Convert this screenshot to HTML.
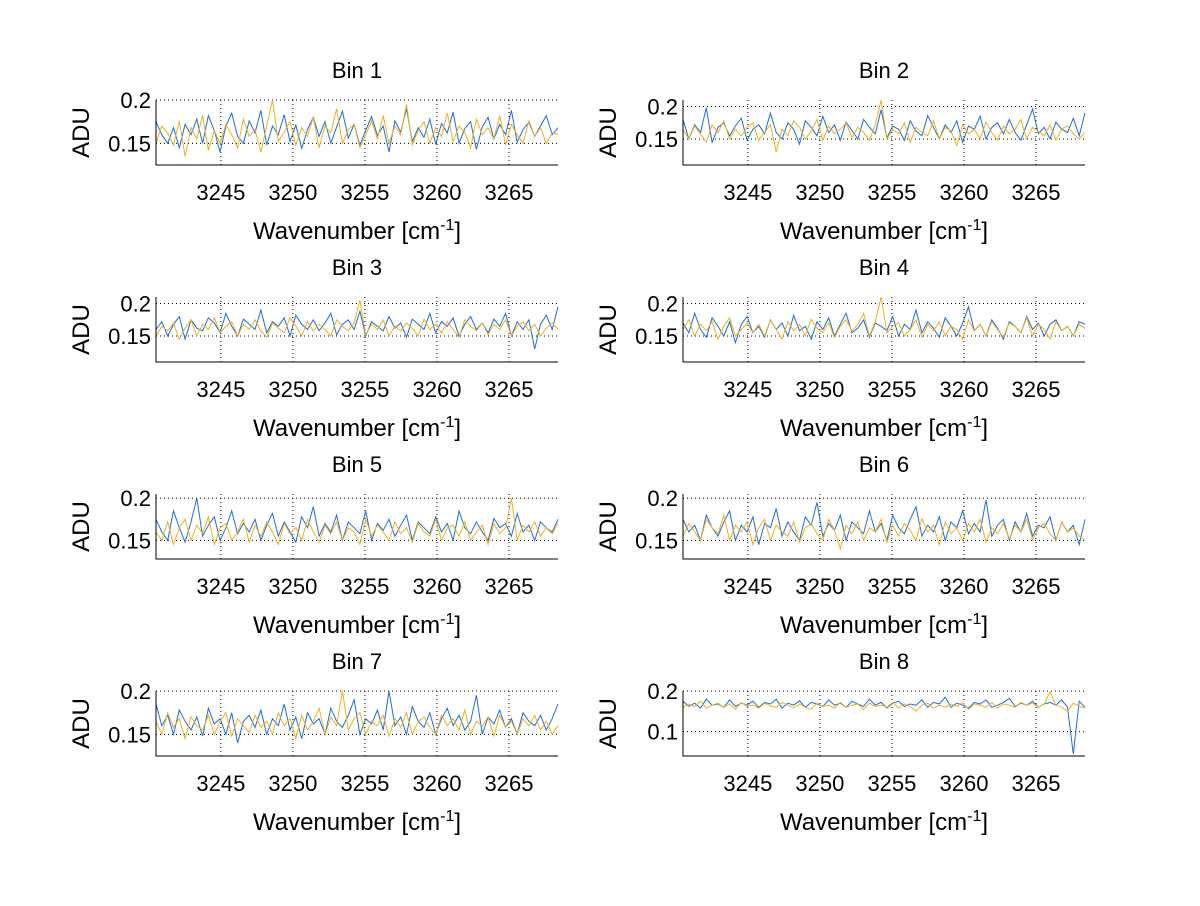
<!DOCTYPE html>
<html><head><meta charset="utf-8"><style>
body{margin:0;background:#fff;}
svg text{font-family:"Liberation Sans",sans-serif;fill:#000;}
</style></head><body>
<svg id="fig" width="1200" height="901" viewBox="0 0 1200 901" xmlns="http://www.w3.org/2000/svg"></svg>
<script>
const binTitles=["Bin 1","Bin 2","Bin 3","Bin 4","Bin 5","Bin 6","Bin 7","Bin 8"];
const xTicks=[3245,3250,3255,3260,3265];
const xRange=[3240.5,3268.4];
const yRanges=[[0.125,0.2],[0.11,0.21],[0.11,0.21],[0.11,0.21],[0.128,0.205],[0.128,0.205],[0.125,0.2],[0.04,0.2]];
const yTicksList=[[0.15,0.2],[0.15,0.2],[0.15,0.2],[0.15,0.2],[0.15,0.2],[0.15,0.2],[0.15,0.2],[0.1,0.2]];
// values in thousandths of ADU
const blue1=[175,160,150,168,145,172,160,178,150,182,165,140,170,185,158,150,176,162,188,148,170,160,183,152,171,144,166,180,158,175,150,169,187,156,172,148,165,181,159,170,140,176,163,190,152,168,157,178,149,173,162,186,150,167,175,143,169,180,155,172,160,188,151,166,174,158,170,182,160,168];
const orange1=[150,170,162,148,176,135,168,155,182,142,165,150,172,160,145,178,158,166,140,170,203,152,163,175,148,168,158,180,145,170,162,190,150,166,172,145,160,176,155,182,150,170,160,195,148,165,175,150,168,158,185,152,170,163,145,178,160,168,155,182,148,172,160,150,176,158,168,150,162,160];
const blue2=[180,150,172,160,198,145,168,175,155,170,182,148,165,172,158,190,160,150,175,165,142,178,168,155,185,160,172,148,176,163,150,180,168,158,195,152,170,165,148,178,162,155,186,168,150,172,160,178,145,170,165,185,150,168,175,158,180,160,148,172,196,158,168,150,176,165,160,182,155,190];
const orange2=[165,150,170,158,145,172,160,178,150,165,155,168,175,148,160,172,130,165,155,178,168,150,162,180,148,170,158,165,175,152,168,160,148,172,210,150,165,158,175,145,168,160,155,178,150,168,162,140,172,158,165,150,176,160,148,170,158,165,180,150,168,162,155,172,148,165,170,158,150,160];
const blue3=[160,172,150,168,180,145,175,162,158,178,170,155,185,165,150,176,168,160,190,155,172,165,178,150,182,168,160,175,158,170,185,152,168,175,160,188,150,172,165,158,180,162,170,148,176,168,160,185,155,172,165,178,150,168,180,160,170,155,176,165,185,150,172,160,175,130,168,182,160,195];
const orange3=[150,165,158,170,145,162,175,150,168,160,178,155,165,172,150,168,160,175,158,148,170,162,155,178,165,150,172,158,168,160,150,175,165,158,170,205,152,168,160,175,150,165,158,170,162,150,176,160,168,155,172,160,148,175,165,158,170,152,168,160,175,150,165,172,158,168,150,162,170,160];
const blue4=[170,155,185,160,148,178,165,150,172,140,168,180,155,165,148,175,160,170,150,182,158,165,145,172,160,178,150,168,185,155,162,175,148,170,165,158,180,150,168,160,190,155,172,162,148,178,165,150,170,195,158,168,150,175,162,145,172,165,155,180,160,170,150,168,175,158,165,150,172,168];
const orange4=[160,175,150,168,158,172,145,165,178,150,160,170,155,168,150,175,160,145,172,158,168,150,176,162,155,170,148,165,175,158,168,185,150,172,210,155,165,170,150,160,175,148,168,158,172,150,165,160,145,175,158,168,150,172,160,148,170,165,155,178,150,168,160,145,172,158,165,150,168,162];
const blue5=[175,160,150,185,165,148,172,200,155,168,178,150,165,185,158,170,160,175,150,168,182,155,172,160,148,178,165,190,155,170,160,180,150,172,165,158,185,150,170,162,175,155,168,180,150,172,165,158,178,160,170,150,185,165,158,172,160,150,176,165,170,155,182,160,168,150,172,165,160,175];
const orange5=[160,150,172,145,165,175,150,168,158,178,145,165,170,150,160,175,148,168,155,172,160,145,170,158,165,150,175,160,148,168,158,172,150,165,160,145,175,155,168,160,150,172,158,165,148,170,160,155,175,150,165,168,155,172,150,160,168,145,170,158,165,200,150,168,160,172,155,165,158,170];
const blue6=[175,160,168,150,180,165,155,172,185,150,168,160,178,145,170,165,188,155,172,160,150,178,168,195,155,170,162,180,150,172,165,158,185,160,170,150,180,165,158,175,190,155,168,160,178,150,172,165,185,158,170,160,198,155,168,175,150,172,160,182,155,168,165,178,150,172,160,168,145,175];
const orange6=[155,170,160,150,175,165,158,180,150,168,160,172,145,165,175,150,168,160,155,172,148,165,170,158,150,175,162,140,168,158,172,150,165,160,175,148,168,155,170,162,150,176,160,168,145,172,158,165,150,170,160,175,148,165,158,170,152,168,160,175,150,165,170,158,150,172,160,165,155,150];
const blue7=[185,160,172,150,178,165,155,170,148,180,162,168,150,175,140,165,172,158,178,150,168,160,185,155,170,145,175,162,168,150,180,165,158,172,190,150,168,162,178,155,200,160,170,150,182,165,158,175,150,168,180,160,172,155,165,195,150,170,162,178,158,168,150,175,165,160,172,155,168,185];
const orange7=[165,150,175,158,168,145,170,160,155,172,150,165,175,148,168,160,152,172,158,165,150,175,160,168,145,172,155,165,180,150,170,160,200,155,168,175,150,165,160,172,148,168,158,175,150,165,170,158,150,172,160,168,155,178,150,165,160,170,148,172,158,165,150,168,160,172,155,165,150,160];
const blue8=[175,162,170,158,180,165,168,160,178,162,170,165,175,160,172,168,180,158,170,165,176,160,172,168,162,178,165,170,160,175,168,162,180,165,172,158,170,175,162,168,165,178,160,172,168,185,160,170,165,158,172,168,178,160,165,172,182,162,170,165,175,160,168,172,165,178,160,45,175,160];
const orange8=[160,168,162,175,158,165,170,160,168,155,172,162,165,158,170,163,160,172,165,158,168,160,155,170,162,165,158,172,160,165,168,155,170,162,165,160,172,158,168,162,150,165,170,158,165,160,168,162,172,155,168,165,160,172,158,168,165,160,172,165,170,160,168,198,165,160,150,170,162,158];
const blueSeries=[blue1,blue2,blue3,blue4,blue5,blue6,blue7,blue8];
const orangeSeries=[orange1,orange2,orange3,orange4,orange5,orange6,orange7,orange8];

const NS="http://www.w3.org/2000/svg";
const svg=document.getElementById('fig');
function mk(tag,attrs,parent){const e=document.createElementNS(NS,tag);for(const k in attrs)e.setAttribute(k,attrs[k]);(parent||svg).appendChild(e);return e;}
const colX=[156,683],rowY=[100,297,494,691],W=402,H=65;
for(let i=0;i<8;i++){
  const x0=colX[i%2],y0=rowY[Math.floor(i/2)];
  const g=mk('g',{});
  
  
  const yr=yRanges[i];
  const sx=v=>x0+(v-xRange[0])/(xRange[1]-xRange[0])*W;
  const sy=v=>y0+H-(v-yr[0])/(yr[1]-yr[0])*H;
  xTicks.forEach(t=>{const l=mk('line',{x1:sx(t),x2:sx(t),y1:y0,y2:y0+H,stroke:'#000','stroke-width':1,'stroke-dasharray':'1,3'},g);
    
    const tx=mk('text',{x:sx(t),y:y0+H+35,'text-anchor':'middle','font-size':22},g);tx.textContent=t;
    });
  yTicksList[i].forEach(t=>{const l=mk('line',{x1:x0,x2:x0+W,y1:sy(t),y2:sy(t),stroke:'#000','stroke-width':1,'stroke-dasharray':'1,3'},g);
    
    const tx=mk('text',{x:x0-5,y:sy(t)+8,'text-anchor':'end','font-size':22},g);tx.textContent=String(t);
    });
  [[blueSeries[i],'#1f6fd6','series-blue'],[orangeSeries[i],'#edb120','series-orange']].forEach(([d,c,n])=>{
    const n1=d.length;const step=(xRange[1]-xRange[0])/(n1-1);
    const pts=d.map((v,k)=>sx(xRange[0]+k*step).toFixed(1)+','+Math.max(y0,Math.min(y0+H,sy(v/1000))).toFixed(1)).join(' ');
    const p=mk('polyline',{points:pts,fill:'none',stroke:c,'stroke-width':1},g);
    });
  const ax=mk('path',{d:`M${x0},${y0}V${y0+H}H${x0+W}`,stroke:'#000','stroke-width':1,fill:'none'},g);
  
  const ti=mk('text',{x:x0+W/2,y:y0-22,'text-anchor':'middle','font-size':22},g);ti.textContent=binTitles[i];
  
  const xl=mk('text',{x:x0+W/2,y:y0+H+74,'text-anchor':'middle','font-size':24},g);
  xl.innerHTML='Wavenumber [cm<tspan dy="-9" font-size="16">-1</tspan><tspan dy="9">]</tspan>';
  
  const yl=mk('text',{x:0,y:0,'text-anchor':'middle','font-size':24,transform:`translate(${x0-67},${y0+H/2}) rotate(-90)`},g);yl.textContent='ADU';
  
}
</script>
</body></html>
